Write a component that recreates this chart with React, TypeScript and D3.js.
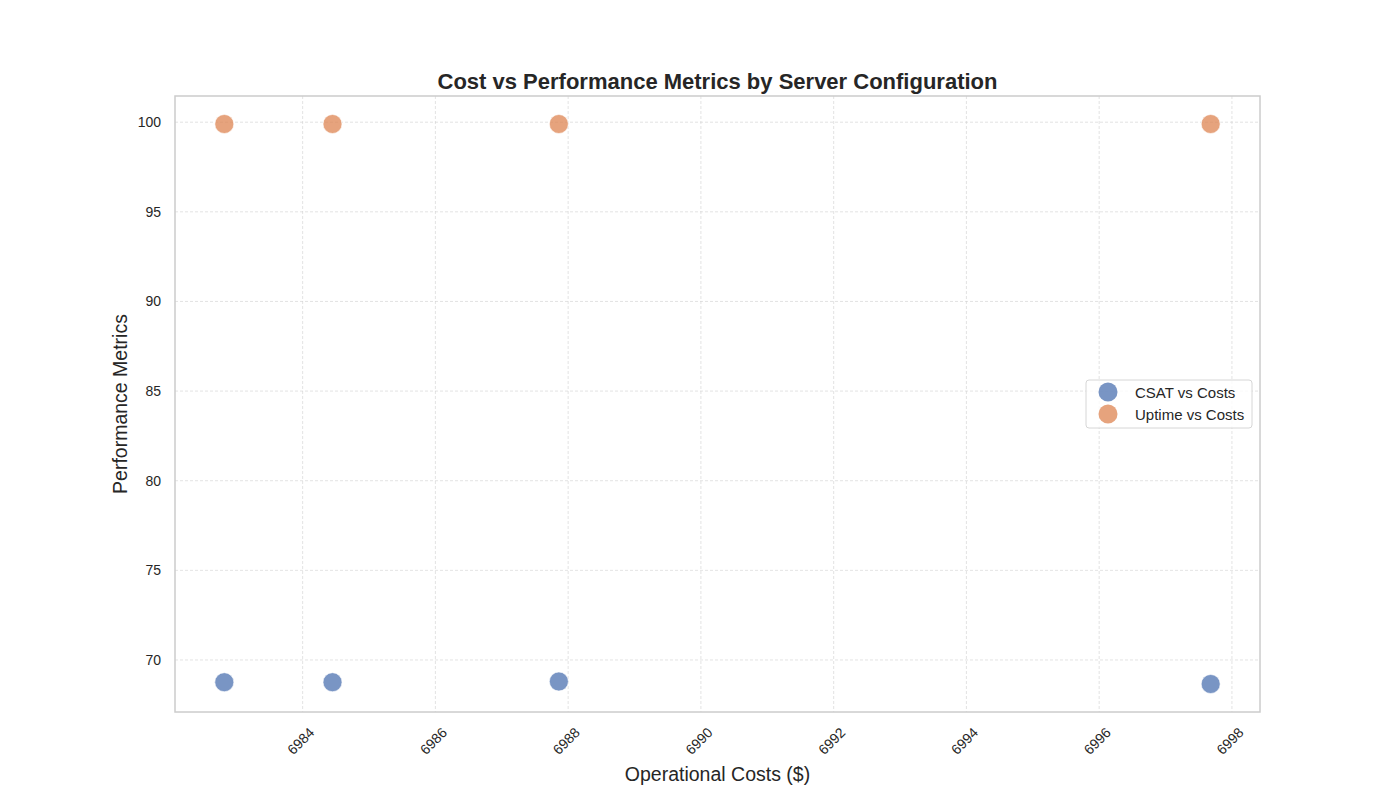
import { useEffect, useRef } from "react";
import * as d3 from "d3";

const costs = [6982.82, 6984.45, 6987.86, 6997.68];
const csat = [68.76, 68.76, 68.8, 68.66];
const uptime = [99.9, 99.9, 99.9, 99.9];
const xTicks = [6984, 6986, 6988, 6990, 6992, 6994, 6996, 6998];
const yTicks = [70, 75, 80, 85, 90, 95, 100];
const seriesNames = ["CSAT vs Costs", "Uptime vs Costs"];
const seriesColors = ["#4C72B0", "#DD8452"];

const FONT = "Arial, 'Liberation Sans', Helvetica, sans-serif";

export default function App() {
  const ref = useRef<SVGSVGElement | null>(null);

  useEffect(() => {
    const svg = d3.select(ref.current!);
    svg.selectAll("*").remove();

    const W = 1400;
    const H = 800;
    const margin = { top: 96, right: 140, bottom: 88, left: 175 };
    const width = W - margin.left - margin.right;
    const height = H - margin.top - margin.bottom;

    svg.attr("width", W).attr("height", H).style("font-family", FONT);

    // auto margins like matplotlib (5%)
    const xr = d3.extent(costs) as [number, number];
    const xPad = (xr[1] - xr[0]) * 0.05;
    const allY = [...csat, ...uptime];
    const yr = d3.extent(allY) as [number, number];
    const yPad = (yr[1] - yr[0]) * 0.05;

    const x = d3.scaleLinear().domain([xr[0] - xPad, xr[1] + xPad]).range([0, width]);
    const y = d3.scaleLinear().domain([yr[0] - yPad, yr[1] + yPad]).range([height, 0]);

    const g = svg.append("g").attr("transform", `translate(${margin.left},${margin.top})`);

    // grid
    g.append("g")
      .selectAll("line")
      .data(xTicks)
      .join("line")
      .attr("x1", (d) => x(d))
      .attr("x2", (d) => x(d))
      .attr("y1", 0)
      .attr("y2", height)
      .attr("stroke", "#d0d0d0")
      .attr("stroke-width", 0.6)
      .attr("stroke-dasharray", "3,2");

    g.append("g")
      .selectAll("line")
      .data(yTicks)
      .join("line")
      .attr("x1", 0)
      .attr("x2", width)
      .attr("y1", (d) => y(d))
      .attr("y2", (d) => y(d))
      .attr("stroke", "#d0d0d0")
      .attr("stroke-width", 0.6)
      .attr("stroke-dasharray", "3,2");

    // frame
    g.append("rect")
      .attr("width", width)
      .attr("height", height)
      .attr("fill", "none")
      .attr("stroke", "#cccccc")
      .attr("stroke-width", 1.5);

    // tick labels
    g.append("g")
      .selectAll("text")
      .data(xTicks)
      .join("text")
      .attr("transform", (d) => `translate(${x(d) - 2},${height + 29}) rotate(-45)`)
      .attr("text-anchor", "middle")
      .attr("dominant-baseline", "central")
      .attr("font-size", 14)
      .attr("fill", "#262626")
      .text((d) => d);

    g.append("g")
      .selectAll("text")
      .data(yTicks)
      .join("text")
      .attr("x", -14)
      .attr("y", (d) => y(d))
      .attr("text-anchor", "end")
      .attr("dominant-baseline", "central")
      .attr("font-size", 14)
      .attr("fill", "#262626")
      .text((d) => d);

    // points
    const series = [csat, uptime];
    series.forEach((vals, si) => {
      g.append("g")
        .selectAll("circle")
        .data(vals)
        .join("circle")
        .attr("cx", (_d, i) => x(costs[i]))
        .attr("cy", (d) => y(d))
        .attr("r", 9.5)
        .attr("fill", seriesColors[si])
        .attr("fill-opacity", 0.75)
        .attr("stroke", "#ffffff")
        .attr("stroke-width", 0.6);
    });

    // title & axis labels
    svg.append("text")
      .attr("x", margin.left + width / 2)
      .attr("y", 81)
      .attr("text-anchor", "middle")
      .attr("dominant-baseline", "central")
      .attr("font-size", 22)
      .attr("font-weight", "bold")
      .attr("fill", "#262626")
      .text("Cost vs Performance Metrics by Server Configuration");

    svg.append("text")
      .attr("x", margin.left + width / 2)
      .attr("y", 774)
      .attr("text-anchor", "middle")
      .attr("dominant-baseline", "central")
      .attr("font-size", 19.5)
      .attr("fill", "#262626")
      .text("Operational Costs ($)");

    svg.append("text")
      .attr("transform", `translate(120,${margin.top + height / 2}) rotate(-90)`)
      .attr("text-anchor", "middle")
      .attr("dominant-baseline", "central")
      .attr("font-size", 19.5)
      .attr("fill", "#262626")
      .text("Performance Metrics");

    // legend
    const lg = svg.append("g").attr("transform", "translate(1086,380)");
    lg.append("rect")
      .attr("width", 166)
      .attr("height", 48)
      .attr("rx", 3)
      .attr("fill", "#ffffff")
      .attr("fill-opacity", 0.8)
      .attr("stroke", "#d6d6d6")
      .attr("stroke-width", 1);
    seriesNames.forEach((name, i) => {
      lg.append("circle")
        .attr("cx", 22)
        .attr("cy", 12 + i * 22)
        .attr("r", 9.5)
        .attr("fill", seriesColors[i])
        .attr("fill-opacity", 0.75);
      lg.append("text")
        .attr("x", 49)
        .attr("y", 12 + i * 22)
        .attr("dominant-baseline", "central")
        .attr("font-size", 15)
        .attr("fill", "#262626")
        .text(name);
    });
  }, []);

  return <svg ref={ref} style={{ display: "block", margin: -8 }} />;
}
